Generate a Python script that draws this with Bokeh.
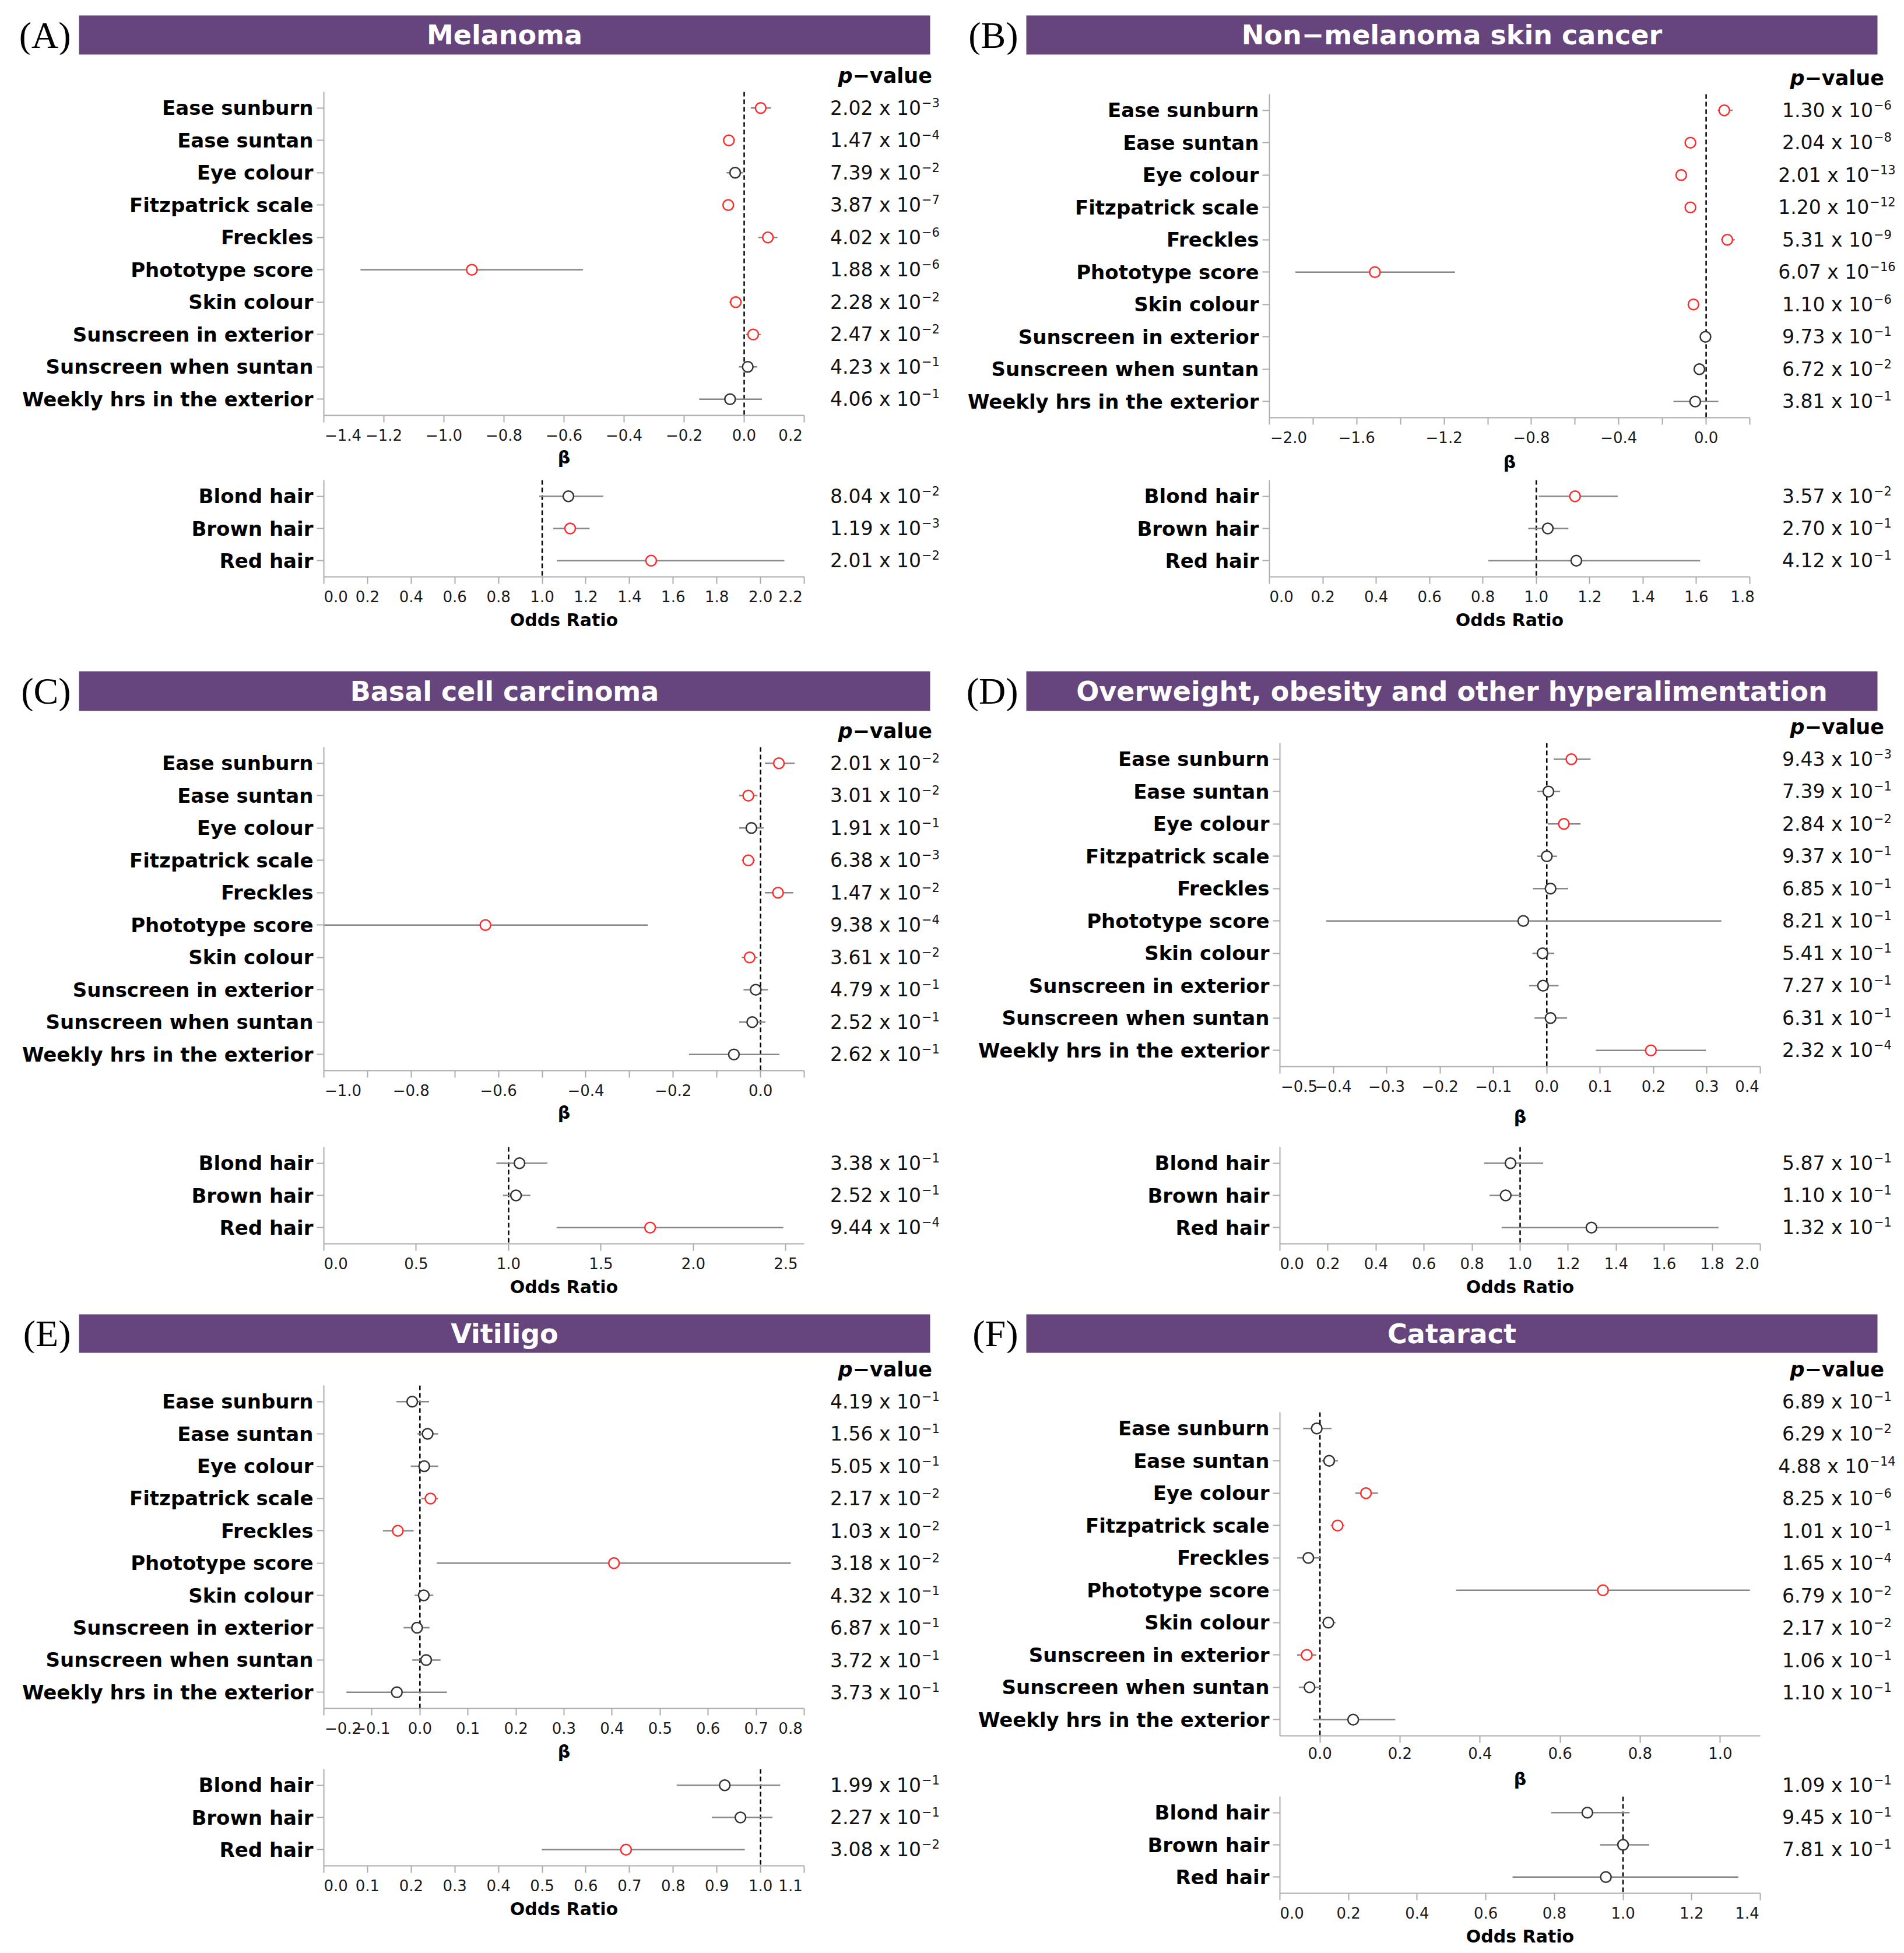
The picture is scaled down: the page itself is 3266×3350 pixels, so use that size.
from bokeh.plotting import figure
from bokeh.layouts import row, column
from bokeh.models import Range1d, FactorRange, FixedTicker, Span, ColumnDataSource
from bokeh.core.properties import value
from bokeh.embed import file_html
from bokeh.resources import INLINE

# ---------------- data ----------------
BETA_ROWS = ["Ease sunburn", "Ease suntan", "Eye colour", "Fitzpatrick scale", "Freckles",
             "Phototype score", "Skin colour", "Sunscreen in exterior", "Sunscreen when suntan",
             "Weekly hrs in the exterior"]
HAIR_ROWS = ["Blond hair", "Brown hair", "Red hair"]
LETTERS = ["(A)", "(B)", "(C)", "(D)", "(E)", "(F)"]
TITLES = ["Melanoma", "Non\u2212melanoma skin cancer", "Basal cell carcinoma",
          "Overweight, obesity and other hyperalimentation", "Vitiligo", "Cataract"]

# (A) Melanoma
mel_beta = [0.055, -0.051, -0.030, -0.053, 0.079, -0.907, -0.028, 0.030, 0.012, -0.047]
mel_beta_lo = [0.022, -0.069, -0.059, -0.069, 0.047, -1.278, -0.049, 0.006, -0.018, -0.150]
mel_beta_hi = [0.089, -0.032, -0.004, -0.036, 0.111, -0.537, -0.008, 0.055, 0.043, 0.059]
mel_beta_p = [2.02e-3, 1.47e-4, 7.39e-2, 3.87e-7, 4.02e-6, 1.88e-6, 2.28e-2, 2.47e-2, 4.23e-1, 4.06e-1]
mel_or = [1.120, 1.128, 1.499]
mel_or_lo = [0.986, 1.050, 1.067]
mel_or_hi = [1.280, 1.217, 2.109]
mel_or_p = [8.04e-2, 1.19e-3, 2.01e-2]

# (B) Non-melanoma skin cancer
nmsc_beta = [0.083, -0.072, -0.114, -0.072, 0.097, -1.517, -0.058, -0.003, -0.031, -0.050]
nmsc_beta_lo = [0.053, -0.089, -0.133, -0.089, 0.069, -1.881, -0.078, -0.022, -0.058, -0.150]
nmsc_beta_hi = [0.122, -0.056, -0.094, -0.056, 0.131, -1.150, -0.039, 0.017, -0.003, 0.056]
nmsc_beta_p = [1.30e-6, 2.04e-8, 2.01e-13, 1.20e-12, 5.31e-9, 6.07e-16, 1.10e-6, 9.73e-1, 6.72e-2, 3.81e-1]
nmsc_or = [1.145, 1.043, 1.150]
nmsc_or_lo = [1.009, 0.970, 0.820]
nmsc_or_hi = [1.305, 1.120, 1.614]
nmsc_or_p = [3.57e-2, 2.70e-1, 4.12e-1]

# (C) Basal cell carcinoma
bcc_beta = [0.042, -0.028, -0.021, -0.028, 0.040, -0.630, -0.025, -0.011, -0.019, -0.061]
bcc_beta_lo = [0.010, -0.049, -0.049, -0.043, 0.010, -1.000, -0.043, -0.039, -0.049, -0.164]
bcc_beta_hi = [0.078, -0.007, 0.007, -0.013, 0.075, -0.258, -0.007, 0.017, 0.011, 0.043]
bcc_beta_p = [2.01e-2, 3.01e-2, 1.91e-1, 6.38e-3, 1.47e-2, 9.38e-4, 3.61e-2, 4.79e-1, 2.52e-1, 2.62e-1]
bcc_or = [1.059, 1.040, 1.766]
bcc_or_lo = [0.934, 0.970, 1.260]
bcc_or_hi = [1.210, 1.118, 2.487]
bcc_or_p = [3.38e-1, 2.52e-1, 9.44e-4]

# (D) Overweight, obesity and other hyperalimentation
ob_beta = [0.046, 0.003, 0.032, 0.000, 0.007, -0.044, -0.008, -0.007, 0.007, 0.195]
ob_beta_lo = [0.013, -0.018, 0.002, -0.018, -0.026, -0.413, -0.027, -0.033, -0.023, 0.092]
ob_beta_hi = [0.082, 0.025, 0.063, 0.019, 0.040, 0.327, 0.014, 0.022, 0.038, 0.298]
ob_beta_p = [9.43e-3, 7.39e-1, 2.84e-2, 9.37e-1, 6.85e-1, 8.21e-1, 5.41e-1, 7.27e-1, 6.31e-1, 2.32e-4]
ob_or = [0.960, 0.940, 1.297]
ob_or_lo = [0.850, 0.873, 0.923]
ob_or_hi = [1.096, 1.005, 1.826]
ob_or_p = [5.87e-1, 1.10e-1, 1.32e-1]

# (E) Vitiligo
vit_beta = [-0.016, 0.016, 0.009, 0.022, -0.046, 0.404, 0.008, -0.006, 0.013, -0.048]
vit_beta_lo = [-0.049, -0.005, -0.019, 0.003, -0.077, 0.035, -0.011, -0.034, -0.016, -0.153]
vit_beta_hi = [0.019, 0.038, 0.038, 0.038, -0.013, 0.772, 0.028, 0.020, 0.043, 0.056]
vit_beta_p = [4.19e-1, 1.56e-1, 5.05e-1, 2.17e-2, 1.03e-2, 3.18e-2, 4.32e-1, 6.87e-1, 3.72e-1, 3.73e-1]
vit_or = [0.918, 0.954, 0.692]
vit_or_lo = [0.808, 0.889, 0.499]
vit_or_hi = [1.045, 1.027, 0.964]
vit_or_p = [1.99e-1, 2.27e-1, 3.08e-2]

# (F) Cataract
cat_beta = [-0.008, 0.023, 0.115, 0.044, -0.029, 0.707, 0.021, -0.033, -0.026, 0.083]
cat_beta_lo = [-0.042, 0.005, 0.088, 0.027, -0.057, 0.340, 0.005, -0.057, -0.053, -0.017]
cat_beta_hi = [0.029, 0.045, 0.145, 0.061, 0.000, 1.074, 0.039, -0.009, 0.002, 0.188]
cat_beta_p = [6.89e-1, 6.29e-2, 4.88e-14, 8.25e-6, 1.01e-1, 1.65e-4, 6.79e-2, 2.17e-2, 1.06e-1, 1.10e-1]
cat_or = [0.896, 1.000, 0.950]
cat_or_lo = [0.791, 0.933, 0.678]
cat_or_hi = [1.019, 1.076, 1.336]
cat_or_p = [1.09e-1, 9.45e-1, 7.81e-1]

# axis domains and ticks
mel_beta_range = (-1.4, 0.2)
mel_beta_ticks = [-1.4, -1.2, -1.0, -0.8, -0.6, -0.4, -0.2, 0.0, 0.2]
mel_or_range = (0.0, 2.2)
mel_or_ticks = [0.0, 0.2, 0.4, 0.6, 0.8, 1.0, 1.2, 1.4, 1.6, 1.8, 2.0, 2.2]

nmsc_beta_range = (-2.0, 0.2)
nmsc_beta_ticks = [-2.0, -1.8, -1.6, -1.4, -1.2, -1.0, -0.8, -0.6, -0.4, -0.2, 0.0, 0.2]
nmsc_beta_labelled = [-2.0, -1.6, -1.2, -0.8, -0.4, 0.0]
nmsc_or_range = (0.0, 1.8)
nmsc_or_ticks = [0.0, 0.2, 0.4, 0.6, 0.8, 1.0, 1.2, 1.4, 1.6, 1.8]

bcc_beta_range = (-1.0, 0.1)
bcc_beta_ticks = [-1.0, -0.9, -0.8, -0.7, -0.6, -0.5, -0.4, -0.3, -0.2, -0.1, 0.0, 0.1]
bcc_beta_labelled = [-1.0, -0.8, -0.6, -0.4, -0.2, 0.0]
bcc_or_range = (0.0, 2.6)
bcc_or_ticks = [0.0, 0.5, 1.0, 1.5, 2.0, 2.5]

ob_beta_range = (-0.5, 0.4)
ob_beta_ticks = [-0.5, -0.4, -0.3, -0.2, -0.1, 0.0, 0.1, 0.2, 0.3, 0.4]
ob_or_range = (0.0, 2.0)
ob_or_ticks = [0.0, 0.2, 0.4, 0.6, 0.8, 1.0, 1.2, 1.4, 1.6, 1.8, 2.0]

vit_beta_range = (-0.2, 0.8)
vit_beta_ticks = [-0.2, -0.1, 0.0, 0.1, 0.2, 0.3, 0.4, 0.5, 0.6, 0.7, 0.8]
vit_or_range = (0.0, 1.1)
vit_or_ticks = [0.0, 0.1, 0.2, 0.3, 0.4, 0.5, 0.6, 0.7, 0.8, 0.9, 1.0, 1.1]

cat_beta_range = (-0.1, 1.1)
cat_beta_ticks = [0.0, 0.2, 0.4, 0.6, 0.8, 1.0]
cat_or_range = (0.0, 1.4)
cat_or_ticks = [0.0, 0.2, 0.4, 0.6, 0.8, 1.0, 1.2, 1.4]

# ---------------- style ----------------
FONT = "DejaVu Sans"
SERIF = "Liberation Serif"
PURPLE = "#66457d"
RED = "#ff2b2b"
DARK = "#333333"
ERR = "#878787"
AXIS = "#ababab"
FRAME_W = 824
BETA_H = 555
OR_H = 166
NBSP = "\u00a0"
PV_FS = 33        # p-value main font size
EXP_FS = 21       # exponent font size
EM = {"\u2212": 0.838, ".": 0.318}   # DejaVu Sans advance widths (em)


def em_width(s):
    return sum(EM.get(c, 0.636) for c in s)


def split_p(q):
    m, e = f"{q:.2e}".split("e")
    return f"{m} x 10", str(int(e)).replace("-", "\u2212")


def tick_text(t):
    return f"{t:.1f}".replace("-", "\u2212")


def tick_overrides(ticks, labelled, xr):
    lab = labelled if labelled is not None else ticks
    out = {}
    for t in ticks:
        if t not in lab:
            out[t] = ""
            continue
        s = tick_text(t)
        n = int(round(em_width(s) / 0.318))
        if abs(t - xr[0]) < 1e-9:      # flush first label to the axis start
            s = NBSP * n + s
        elif abs(t - xr[1]) < 1e-9:    # flush last label to the axis end
            s = s + NBSP * ((n + 1) // 2)
        out[t] = s
    return out


def forest(cats, est, lo, hi, pvals, xr, ticks, labelled, xlabel, ref, width, height,
           fl, top, frame_h, std):
    src = ColumnDataSource(dict(cat=cats, est=est, lo=lo, hi=hi,
                                color=[RED if q < 0.05 else DARK for q in pvals]))
    p = figure(width=width, height=height, x_range=Range1d(*xr),
               y_range=FactorRange(factors=cats[::-1]),
               output_backend="svg", toolbar_location=None,
               min_border_left=fl, min_border_right=width - fl - FRAME_W,
               min_border_top=top, min_border_bottom=height - top - frame_h)
    p.outline_line_color = None
    p.grid.visible = False
    p.background_fill_color = "white"
    p.add_layout(Span(location=ref, dimension="height", line_color="black",
                      line_width=2.5, line_dash="8 5", level="underlay"))
    p.segment(x0="lo", y0="cat", x1="hi", y1="cat", source=src,
              line_color=ERR, line_width=2.5)
    p.scatter(x="est", y="cat", source=src, marker="circle", size=18,
              fill_color="white", line_color="color", line_width=2.5)

    xa = p.xaxis[0]
    xa.ticker = FixedTicker(ticks=ticks, minor_ticks=[])
    xa.major_label_overrides = tick_overrides(ticks, labelled, xr)
    xa.axis_label = xlabel
    xa.axis_label_text_font = FONT
    xa.axis_label_text_font_size = "30px"
    xa.axis_label_text_font_style = "bold"
    xa.axis_label_text_color = "black"
    xa.axis_label_standoff = std
    xa.major_label_text_font = FONT
    xa.major_label_text_font_size = "26px"
    xa.major_label_text_color = "#1a1a1a"
    xa.major_label_standoff = 7
    xa.major_tick_out = 12
    xa.major_tick_in = 0
    xa.major_tick_line_color = AXIS
    xa.major_tick_line_width = 2
    xa.axis_line_color = AXIS
    xa.axis_line_width = 2

    ya = p.yaxis[0]
    ya.major_label_text_font = FONT
    ya.major_label_text_font_size = "34px"
    ya.major_label_text_font_style = "bold"
    ya.major_label_text_color = "black"
    ya.major_label_standoff = 6
    ya.major_tick_out = 12
    ya.major_tick_in = 0
    ya.major_tick_line_color = AXIS
    ya.major_tick_line_width = 2
    ya.axis_line_color = AXIS
    ya.axis_line_width = 2
    return p


def pv_figure(pvals, width, height, y0_rel, step, header):
    n = len(pvals)
    tv = -y0_rel / step - 0.5
    bv = tv + height / step
    p = figure(width=width, height=height, x_range=Range1d(-width / 2, width / 2),
               y_range=Range1d(bv, tv), output_backend="svg", toolbar_location=None,
               min_border_left=0, min_border_right=0, min_border_top=0, min_border_bottom=0,
               x_axis_location=None, y_axis_location=None)
    p.outline_line_color = None
    p.grid.visible = False
    mains, exps = zip(*[split_p(q) for q in pvals])
    w_main = em_width("0.00") * PV_FS + (0.318 + 0.592 + 0.318 + 1.272) * PV_FS
    anchors = [(w_main - em_width(e) * EXP_FS) / 2 for e in exps]
    ys = list(range(n))
    p.text(x=anchors, y=ys, text=list(mains), text_align="right", text_baseline="middle",
           text_font=value(FONT), text_font_size=value(f"{PV_FS}px"), text_color="#111111")
    p.text(x=[a + 1 for a in anchors], y=[k - 9.5 / step for k in ys], text=list(exps),
           text_align="left", text_baseline="middle", text_font=value(FONT),
           text_font_size=value(f"{EXP_FS}px"), text_color="#111111")
    if header:
        hy = -0.99
        p.text(x=[-55], y=[hy], text=["p"], text_align="right", text_baseline="middle",
               text_font=value(FONT), text_font_style="bold italic",
               text_font_size=value("35px"), text_color="black")
        p.text(x=[-55], y=[hy], text=["\u2212value"], text_align="left",
               text_baseline="middle", text_font=value(FONT), text_font_style="bold",
               text_font_size=value("35px"), text_color="black")
    return p


def panel(i, beta, orr, beta_axis, or_axis, g):
    pw = g["pw"]
    lab_w = g["lab_w"]
    beta_w = g["beta_w"]
    pv_w = pw - beta_w
    split = g["bar_bot"] + 2
    pv_split = g.get("pv_split", g["mid"])
    pv_beta_top = g.get("pv_beta_top", g["beta_top"])
    pv_or_top = g.get("pv_or_top", g["or_top"])

    # header: letter + purple title bar
    head_h = split - g["top"]
    centre = (g["bar_top"] + g["bar_bot"]) / 2
    half = int(min(centre - g["top"], split - centre))
    ltop = int(round(centre - half - g["top"]))
    lab = figure(width=lab_w, height=head_h, x_range=Range1d(0, 1), y_range=Range1d(0, 1),
                 output_backend="svg", toolbar_location=None,
                 min_border_left=0, min_border_right=0,
                 min_border_top=ltop, min_border_bottom=head_h - ltop - 2 * half,
                 x_axis_location=None, y_axis_location=None)
    lab.outline_line_color = None
    lab.grid.visible = False
    lab.text(x=[1], y=[0.5], text=[LETTERS[i]], x_offset=-14, text_align="right",
             text_baseline="middle", text_font=value(SERIF), text_font_size=value("64px"),
             text_color="black")

    bar = figure(width=pw - lab_w, height=head_h, x_range=Range1d(0, 1),
                 y_range=Range1d(0, 1), output_backend="svg", toolbar_location=None,
                 min_border_left=0, min_border_right=pw - lab_w - 1460,
                 min_border_top=g["bar_top"] - g["top"], min_border_bottom=split - g["bar_bot"],
                 x_axis_location=None, y_axis_location=None,
                 background_fill_color=PURPLE, border_fill_color="white")
    bar.outline_line_color = None
    bar.grid.visible = False
    bar.text(x=[0.5], y=[0.5], text=[TITLES[i]], text_align="center", text_baseline="middle",
             text_font=value(FONT), text_font_style="bold", text_font_size=value("46px"),
             text_color="white")

    b_est, b_lo, b_hi, b_p = beta
    o_est, o_lo, o_hi, o_p = orr
    bxr, bticks, blab = beta_axis
    oxr, oticks, olab = or_axis

    bh = g["mid"] - split
    pb = forest(BETA_ROWS, b_est, b_lo, b_hi, b_p, bxr, bticks, blab, "\u03b2", 0.0,
                beta_w, bh, g["fl"], g["beta_top"] - split, BETA_H, g["std"])
    oh = g["bottom"] - g["mid"]
    po = forest(HAIR_ROWS, o_est, o_lo, o_hi, o_p, oxr, oticks, olab, "Odds Ratio", 1.0,
                beta_w, oh, g["fl"], g["or_top"] - g["mid"], OR_H, 4)

    pvb = pv_figure(b_p, pv_w, pv_split - split, pv_beta_top - split, BETA_H / 10, True)
    pvo = pv_figure(o_p, pv_w, g["bottom"] - pv_split, pv_or_top - pv_split, OR_H / 3, False)

    return column(row(lab, bar), row(column(pb, po), column(pvb, pvo)))


LEFT = dict(pw=1633, lab_w=135, beta_w=1401)
RIGHT = dict(pw=1625, lab_w=127, beta_w=1409)
G = [
    dict(LEFT, top=0, bar_top=26, bar_bot=93, beta_top=157, mid=812, or_top=823, bottom=1120, fl=555, std=2),
    dict(RIGHT, top=0, bar_top=26, bar_bot=93, beta_top=161, mid=812, or_top=823, bottom=1120, fl=544, std=6),
    dict(LEFT, top=1120, bar_top=1151, bar_bot=1219, beta_top=1281, mid=1950, or_top=1967, bottom=2240, fl=555, std=2),
    dict(RIGHT, top=1120, bar_top=1151, bar_bot=1219, beta_top=1274, mid=1950, or_top=1967, bottom=2240, fl=562, std=16),
    dict(LEFT, top=2240, bar_top=2254, bar_bot=2320, beta_top=2376, mid=3024, or_top=3034, bottom=3342, fl=555, std=4),
    dict(RIGHT, top=2240, bar_top=2254, bar_bot=2320, beta_top=2422, mid=3080, or_top=3081, bottom=3342, fl=562, std=14,
         pv_beta_top=2376, pv_or_top=3034, pv_split=2985),
]

pA = panel(0, (mel_beta, mel_beta_lo, mel_beta_hi, mel_beta_p), (mel_or, mel_or_lo, mel_or_hi, mel_or_p),
           (mel_beta_range, mel_beta_ticks, None), (mel_or_range, mel_or_ticks, None), G[0])
pB = panel(1, (nmsc_beta, nmsc_beta_lo, nmsc_beta_hi, nmsc_beta_p), (nmsc_or, nmsc_or_lo, nmsc_or_hi, nmsc_or_p),
           (nmsc_beta_range, nmsc_beta_ticks, nmsc_beta_labelled), (nmsc_or_range, nmsc_or_ticks, None), G[1])
pC = panel(2, (bcc_beta, bcc_beta_lo, bcc_beta_hi, bcc_beta_p), (bcc_or, bcc_or_lo, bcc_or_hi, bcc_or_p),
           (bcc_beta_range, bcc_beta_ticks, bcc_beta_labelled), (bcc_or_range, bcc_or_ticks, None), G[2])
pD = panel(3, (ob_beta, ob_beta_lo, ob_beta_hi, ob_beta_p), (ob_or, ob_or_lo, ob_or_hi, ob_or_p),
           (ob_beta_range, ob_beta_ticks, None), (ob_or_range, ob_or_ticks, None), G[3])
pE = panel(4, (vit_beta, vit_beta_lo, vit_beta_hi, vit_beta_p), (vit_or, vit_or_lo, vit_or_hi, vit_or_p),
           (vit_beta_range, vit_beta_ticks, None), (vit_or_range, vit_or_ticks, None), G[4])
pF = panel(5, (cat_beta, cat_beta_lo, cat_beta_hi, cat_beta_p), (cat_or, cat_or_lo, cat_or_hi, cat_or_p),
           (cat_beta_range, cat_beta_ticks, None), (cat_or_range, cat_or_ticks, None), G[5])

layout = column(row(pA, pB), row(pC, pD), row(pE, pF))

open("out.html", "w").write(file_html(layout, INLINE))
